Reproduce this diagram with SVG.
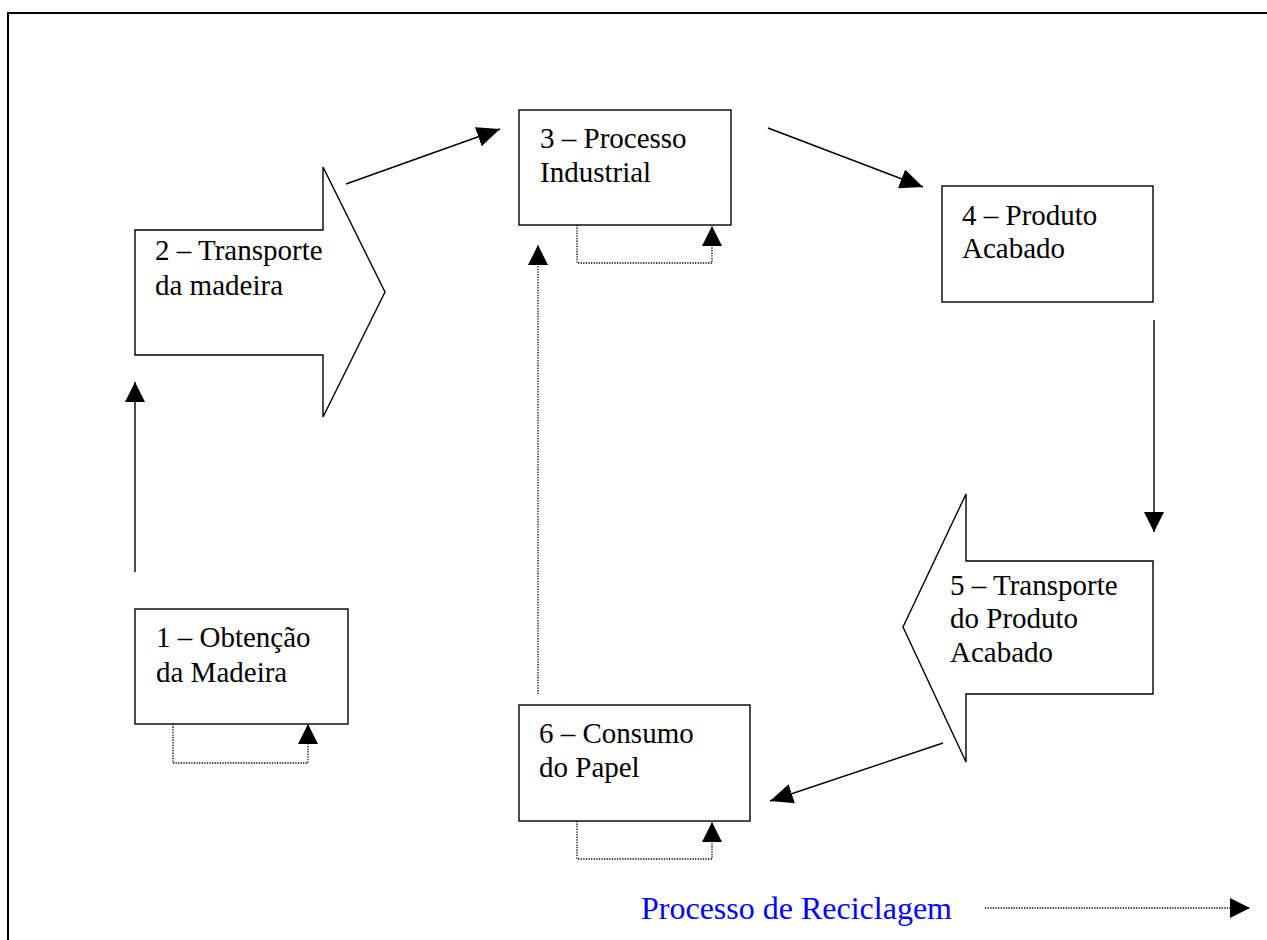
<svg xmlns="http://www.w3.org/2000/svg" width="1267" height="940" viewBox="0 0 1267 940">
<style>
.box{fill:#fff;stroke:#000;stroke-width:1.4}
.lbl{font-family:"Liberation Serif","Times New Roman",serif;font-size:29px;fill:#000}
.con{fill:none;stroke:#000;stroke-width:1.4}
.dot{fill:none;stroke:#000;stroke-width:1.3;stroke-dasharray:1.3 1.3}
</style>
<defs>
<marker id="ah" markerUnits="userSpaceOnUse" markerWidth="23" markerHeight="20" refX="23" refY="10" orient="auto" viewBox="0 0 23 20">
<path d="M0,0 L23,10 L0,20 z" fill="#000"/>
</marker>
<marker id="ahs" markerUnits="userSpaceOnUse" markerWidth="20" markerHeight="20" refX="20" refY="10" orient="auto" viewBox="0 0 20 20">
<path d="M0,0 L20,10 L0,20 z" fill="#000"/>
</marker>
</defs>
<rect x="8" y="13" width="1300" height="960" fill="none" stroke="#000" stroke-width="2"/>

<g id="connectors">
<line class="con" x1="135" y1="572" x2="135" y2="382" marker-end="url(#ahs)"/>
<line class="con" x1="346" y1="184" x2="500" y2="129" marker-end="url(#ah)"/>
<line class="con" x1="768" y1="128" x2="923" y2="187" marker-end="url(#ah)"/>
<line class="con" x1="1154" y1="320" x2="1154" y2="532" marker-end="url(#ahs)"/>
<line class="con" x1="943" y1="743" x2="770" y2="801" marker-end="url(#ah)"/>
<line class="dot" x1="538" y1="694" x2="538" y2="245" marker-end="url(#ahs)"/>
<polyline class="dot" points="173,724 173,763 308,763 308,724" marker-end="url(#ahs)"/>
<polyline class="dot" points="577,225 577,263 712,263 712,226" marker-end="url(#ahs)"/>
<polyline class="dot" points="577,821 577,859 712,859 712,822" marker-end="url(#ahs)"/>
</g>

<g id="node1">
<rect class="box" x="135" y="609" width="213" height="115"/>
<text class="lbl" x="156" y="647">1 – Obtenção</text>
<text class="lbl" x="156" y="682">da Madeira</text>
</g>
<g id="node2">
<polygon class="box" points="135,230 323,230 323,167 385,292 323,417 323,355 135,355"/>
<text class="lbl" x="155" y="260">2 – Transporte</text>
<text class="lbl" x="155" y="295">da madeira</text>
</g>
<g id="node3">
<rect class="box" x="519" y="110" width="212" height="115"/>
<text class="lbl" x="540" y="148">3 – Processo</text>
<text class="lbl" x="540" y="182">Industrial</text>
</g>
<g id="node4">
<rect class="box" x="942" y="186" width="211" height="116"/>
<text class="lbl" x="962" y="225">4 – Produto</text>
<text class="lbl" x="962" y="258">Acabado</text>
</g>
<g id="node5">
<polygon class="box" points="1153,561 966,561 966,494 903,627 966,762 966,694 1153,694"/>
<text class="lbl" x="950" y="595">5 – Transporte</text>
<text class="lbl" x="950" y="628">do Produto</text>
<text class="lbl" x="950" y="662">Acabado</text>
</g>
<g id="node6">
<rect class="box" x="519" y="705" width="231" height="116"/>
<text class="lbl" x="539" y="743">6 – Consumo</text>
<text class="lbl" x="539" y="777">do Papel</text>
</g>

<g id="legend">
<text x="641" y="919" font-family="'Liberation Serif','Times New Roman',serif" font-size="32" fill="#0000FF">Processo de Reciclagem</text>
<line class="dot" x1="985" y1="908" x2="1250" y2="908" marker-end="url(#ahs)"/>
</g>
</svg>
